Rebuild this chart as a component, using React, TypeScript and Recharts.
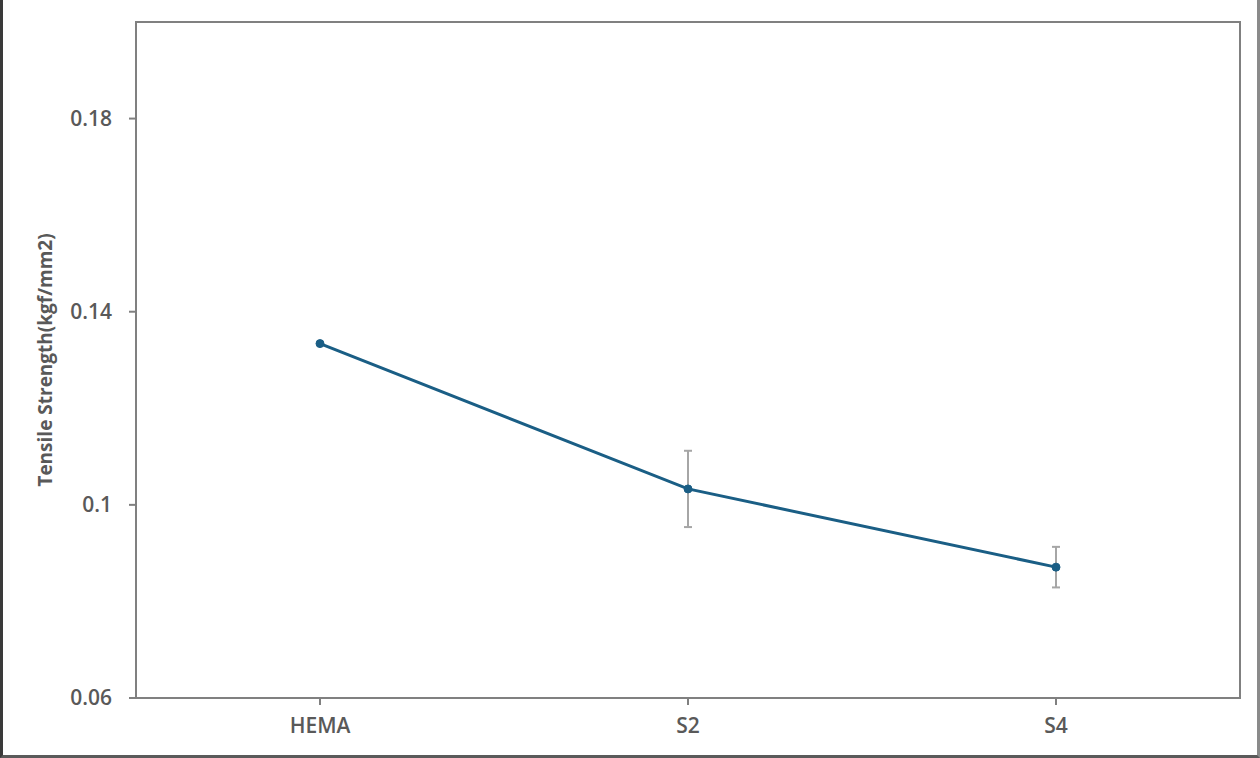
import React from "react";
import {
  LineChart,
  Line,
  XAxis,
  YAxis,
  ErrorBar,
  Label,
  ReferenceArea,
} from "recharts";

const groups = ["HEMA", "S2", "S4"];
const strength = [0.1334, 0.1033, 0.0871];
const strengthErr = [0, 0.0079, 0.0042];
const yTicks = [0.06, 0.1, 0.14, 0.18];

const data = groups.map((g, i) => ({
  name: g,
  value: strength[i],
  err: strengthErr[i],
}));

const FONT = "'Open Sans', 'Noto Sans', sans-serif";
const TEXT = "#595959";
const AXIS = "#808080";

export default function App() {
  return (
    <div
      style={{
        position: "absolute",
        left: 0,
        top: 0,
        width: 1260,
        height: 758,
        boxSizing: "border-box",
        borderLeft: "3px solid #3a3a3a",
        borderRight: "3px solid #8a8a8a",
        borderBottom: "3px solid #5a5a5a",
        background: "#fff",
      }}
    >
      <div style={{ position: "absolute", left: -3, top: 0 }}>
        <LineChart
          width={1260}
          height={758}
          data={data}
          margin={{ top: 22, right: 20, left: 0, bottom: 0 }}
        >
          <XAxis
            dataKey="name"
            scale="band"
            height={60}
            tickSize={7}
            tickMargin={13}
            stroke={AXIS}
            strokeWidth={2}
            tick={{ fill: TEXT, fontSize: 21, fontWeight: 600, fontFamily: FONT }}
          />
          <YAxis
            width={136}
            domain={[0.06, 0.2]}
            ticks={yTicks}
            tickSize={7}
            tickMargin={17}
            stroke={AXIS}
            strokeWidth={2}
            tick={{ fill: TEXT, fontSize: 21, fontWeight: 600, fontFamily: FONT }}
          >
            <Label
              content={({ viewBox }: any) => {
                const cy = viewBox.y + viewBox.height / 2;
                return (
                  <text
                    x={45}
                    y={cy}
                    transform={`rotate(-90, 45, ${cy})`}
                    textAnchor="middle"
                    dominantBaseline="central"
                    fill={TEXT}
                    fontSize={19}
                    fontWeight={700}
                    fontFamily={FONT}
                  >
                    Tensile Strength(kgf/mm2)
                  </text>
                );
              }}
            />
          </YAxis>
          <ReferenceArea
            y1={0.06}
            y2={0.2}
            fill="none"
            stroke={AXIS}
            strokeWidth={2}
            ifOverflow="visible"
          />
          <Line
            dataKey="value"
            stroke="#1a5e85"
            strokeWidth={3}
            dot={{ r: 4, fill: "#1a5e85", stroke: "#1a5e85", strokeWidth: 1 }}
            isAnimationActive={false}
          >
            <ErrorBar
              dataKey="err"
              width={4}
              stroke="#a6a6a6"
              strokeWidth={2}
              direction="y"
            />
          </Line>
        </LineChart>
      </div>
    </div>
  );
}
